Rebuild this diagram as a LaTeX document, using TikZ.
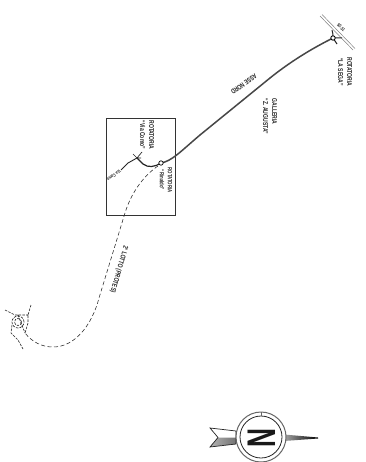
\documentclass[tikz,border=0pt]{standalone}
\usepackage{fontspec}
\usepackage{graphicx}
\setmainfont{Liberation Sans}
\newcommand{\nar}[1]{\scalebox{.72}[1]{#1}}
\tikzset{
 lab/.style={font=\bfseries\fontsize{7}{9}\selectfont,inner sep=0pt,align=center,text=black!85},
 labsmall/.style={font=\bfseries\fontsize{6}{8}\selectfont,inner sep=0pt,align=center,text=black!85},
 labtiny/.style={font=\bfseries\fontsize{4.8}{5}\selectfont,inner sep=0pt,text=black!85},
 road/.style={line width=1.5pt,black!72},
 ramp/.style={line width=1.2pt,black!85},
 thin road/.style={line width=.7pt,black!85},
 dash road/.style={line width=.55pt,black!85,dash pattern=on 4pt off 2.5pt},
 junc dash/.style={line width=.6pt,black!85,dash pattern=on 2.5pt off 1.2pt},
}
\begin{document}
\begin{tikzpicture}[x=1pt,y=-1pt]
\useasboundingbox (0,0) rectangle (365,462);
\fill[white] (0,0) rectangle (365,462);
% frame
\draw[line width=.8pt,black!80] (106,118) rectangle (175,215);
% main road
\draw[road] (161,163) .. controls (172,161) and (180,152) .. (200,135) -- (270,78) .. controls (285,66) and (305,52) .. (333,38);
% ramp
\draw[ramp] (161,163) .. controls (155,167) and (148,168) .. (143,164) .. controls (141,162) and (139,160) .. (137,158);
\draw[thin road,line width=.9pt] (137,158) -- (128,163) -- (121,170);
\draw[thin road] (137,158) -- (142,152) (137,158) -- (133,154) (137,158) -- (141,158);
\draw[line width=.7pt,black,fill=white] (161,163) circle (2.2pt);
% SS line
\draw[black!50,line width=.5pt] (320,16) -- (353,50) (322,14.500) -- (355,48.500);
% La Sega junction
\draw[line width=1pt,black!85] (332,30) .. controls (333,33) and (333,35) .. (333,38) (337,44) -- (333,38) (342,38) .. controls (339,38) and (336,38) .. (333,38);
\draw[line width=.9pt,fill=white] (333,38) circle (2.2pt);
% dashed
\draw[dash road] (158,166) .. controls (146,174) and (132,190) .. (125,213) -- (99,298) .. controls (92,325) and (75,347) .. (53,347) .. controls (42,347) and (32,342) .. (25,333);
\draw[junc dash] (18,322) circle (6pt) (18,322) circle (3.5pt);
\draw[junc dash] (5,310) -- (15,315) (31,305) -- (28,315) -- (28,323) -- (25,333) (12,325) -- (11,333) -- (18,340) -- (23,349) (18,315) -- (25,333) (15,315) -- (28,315);
% labels
\node[lab,rotate=-90] (a) at (345,72) {\nar{ROTATORIA}\\\nar{``LA SEGA''}};
\node[lab,rotate=-90,align=left] (b) at (270,116.500) {\nar{GALLERIA}\\\nar{``Z. AUGUSTA''}};
\node[labsmall,rotate=-90] (c) at (166,180) {\nar{ROTATORIA}\\\nar{``Rinaldo''}};
\node[lab,rotate=-90] (d) at (147,135) {\nar{ROTATORIA}\\\nar{``Via Como''}};
\node[lab,rotate=216] (e) at (244,84) {\nar{ASSE NORD}};
\node[labtiny,rotate=-45] (f) at (341,27.500) {\nar{SS.51}};
\node[labtiny,rotate=216] (g) at (114,175.500) {\nar{Via Como}};
\node[lab,rotate=-106] (h) at (119,269) {\nar{2° LOTTO (PROTES)}};
% compass
\fill[white] (210,428) -- (236,431) -- (236,437.500) -- (218,437.500) -- cycle;
\shade[left color=black!30,right color=black!55] (218,437.500) -- (236,437.500) -- (236,444) -- (210,447) -- cycle;
\draw[line width=.7pt,black!85] (210,428) -- (236,431) -- (236,444) -- (210,447) -- (218,437.500) -- cycle;
\shade[left color=black!35,right color=black] (284,434.500) -- (318,437.500) -- (318,438.500) -- (284,441) -- cycle;
\draw[line width=1pt,black!60,fill=white] (261,437) circle (25pt);
\draw[line width=.8pt,black!85] (261,437) circle (21pt);
\draw[line width=.5pt,black!60] (261,412) -- (261,416);
\node[inner sep=0pt,rotate=-90,font=\bfseries\fontsize{40}{40}\selectfont,text=black!90] (n) at (261.500,438.500) {\scalebox{.66}[1]{N}};
\end{tikzpicture}
\end{document}
